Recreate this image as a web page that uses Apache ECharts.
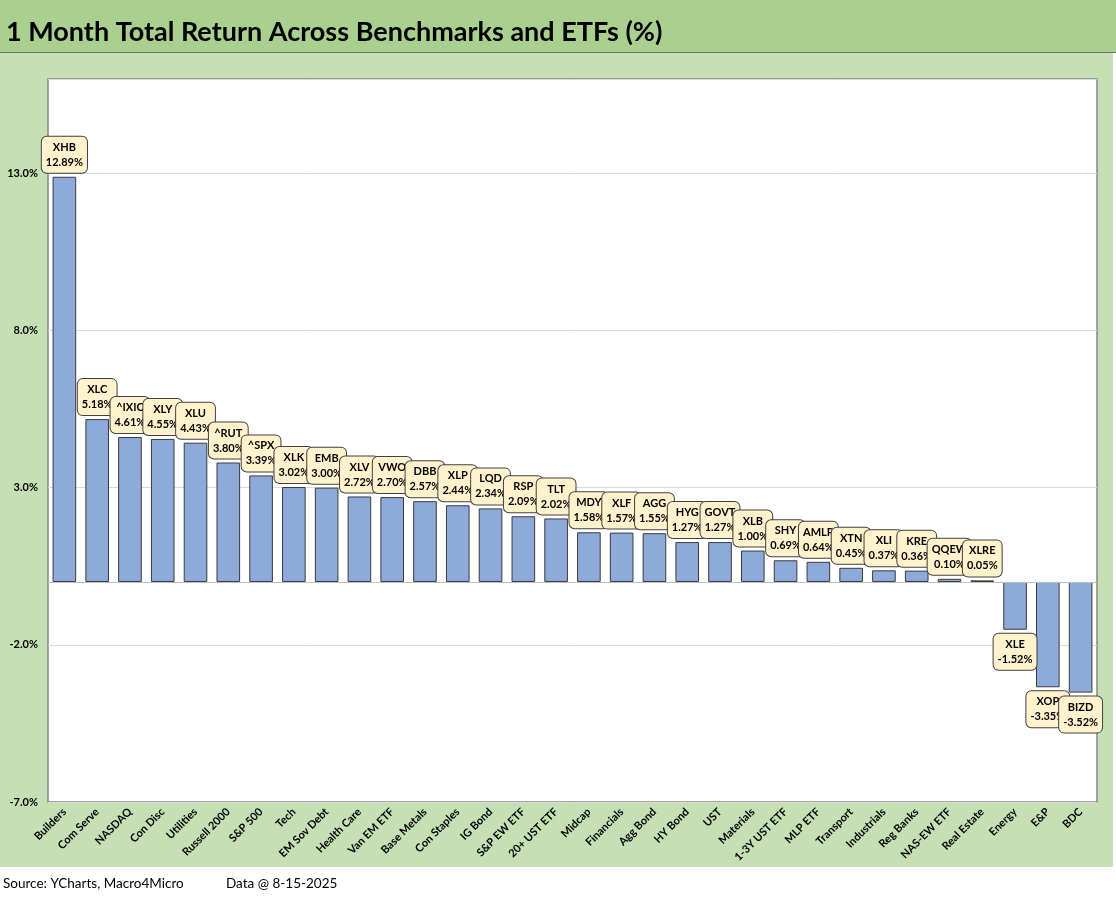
<!DOCTYPE html>
<html>
<head>
<meta charset="utf-8">
<script src="https://cdn.jsdelivr.net/npm/echarts@6/dist/echarts.min.js"></script>
<style>
html,body{margin:0;padding:0;background:#fff;}
#chart{width:1116px;height:900px;}
</style>
</head>
<body>
<div id="chart"></div>
<script>
const categories = ["Builders","Com Serve","NASDAQ","Con Disc","Utilities","Russell 2000","S&P 500","Tech","EM Sov Debt","Health Care","Van EM ETF","Base Metals","Con Staples","IG Bond","S&P EW ETF","20+ UST ETF","Midcap","Financials","Agg Bond","HY Bond","UST","Materials","1-3Y UST ETF","MLP ETF","Transport","Industrials","Reg Banks","NAS-EW ETF","Real Estate","Energy","E&P","BDC"];
const tickers = ["XHB","XLC","^IXIC","XLY","XLU","^RUT","^SPX","XLK","EMB","XLV","VWO","DBB","XLP","LQD","RSP","TLT","MDY","XLF","AGG","HYG","GOVT","XLB","SHY","AMLP","XTN","XLI","KRE","QQEW","XLRE","XLE","XOP","BIZD"];
const returns = [12.89,5.18,4.61,4.55,4.43,3.80,3.39,3.02,3.00,2.72,2.70,2.57,2.44,2.34,2.09,2.02,1.58,1.57,1.55,1.27,1.27,1.00,0.69,0.64,0.45,0.37,0.36,0.10,0.05,-1.52,-3.35,-3.52];
const yTicks = [-7,-2,3,8,13];

const FONT = 'Lato';
const chart = echarts.init(document.getElementById('chart'), null, {renderer:'canvas'});

const seriesData = returns.map(v => ({
  value: v,
  label: { position: v >= 0 ? 'top' : 'bottom' }
}));

chart.setOption({
  backgroundColor: '#ffffff',
  animation: false,
  textStyle: { fontFamily: FONT },
  graphic: [
    { type:'rect', z:-10, shape:{x:0,y:0,width:1116,height:52}, style:{fill:'#a9d08e'} },
    { type:'line', z:-9, shape:{x1:0,y1:52.5,x2:1116,y2:52.5}, style:{stroke:'#6e6e6e',lineWidth:1} },
    { type:'rect', z:-10, shape:{x:0,y:53,width:1113,height:814}, style:{fill:'#c5e0b4'} },
    { type:'text', left:6, top:19, style:{text:'1 Month Total Return Across Benchmarks and ETFs (%)', font:'bold 27px Lato', fill:'#000'} },
    { type:'text', left:3, top:877, style:{text:'Source: YCharts, Macro4Micro', font:'13.5px Lato', fill:'#000'} },
    { type:'text', left:226, top:877, style:{text:'Data @ 8-15-2025', font:'13.5px Lato', fill:'#000'} }
  ],
  grid: {
    left: 48, right: 19, top: 79, bottom: 98,
    show: true, backgroundColor: '#ffffff', borderColor: '#858585', borderWidth: 1.5
  },
  xAxis: {
    type: 'category',
    data: categories,
    axisLine: { show: false, onZero: false },
    axisTick: { show: false },
    axisLabel: { interval: 0, rotate: 45, margin: 8, fontFamily: FONT, fontWeight: 'bold', fontSize: 11, color: '#000' }
  },
  yAxis: {
    type: 'value',
    min: -7, max: 16, interval: 5,
    axisLine: { show: false },
    axisTick: { show: false },
    splitLine: { lineStyle: { color: '#d9d9d9', width: 1 } },
    axisLabel: {
      margin: 10, fontFamily: FONT, fontWeight: 'bold', fontSize: 11, color: '#000',
      formatter: v => yTicks.some(t => Math.abs(t - v) < 1e-6) ? v.toFixed(1) + '%' : ''
    }
  },
  series: [{
    type: 'bar',
    data: seriesData,
    barCategoryGap: '28%',
    itemStyle: { color: '#8eaadb', borderColor: '#3a3a3a', borderWidth: 1 },
    label: {
      show: true,
      distance: 4,
      formatter: p => '{t|' + tickers[p.dataIndex] + '}\n{v|' + returns[p.dataIndex].toFixed(2) + '%}',
      backgroundColor: '#fff2cc',
      borderColor: '#404040',
      borderWidth: 1,
      borderRadius: 5,
      padding: [3, 4, 3, 4],
      rich: {
        t: { fontFamily: FONT, fontWeight: 'bold', fontSize: 11, lineHeight: 15, color: '#000', align: 'center' },
        v: { fontFamily: FONT, fontWeight: 'bold', fontSize: 11, lineHeight: 15, color: '#000', align: 'center' }
      }
    },
    markLine: {
      silent: true,
      symbol: 'none',
      label: { show: false },
      lineStyle: { color: '#bfbfbf', width: 1, type: 'solid' },
      data: [{ yAxis: 0 }]
    }
  }]
});
</script>
</body>
</html>
